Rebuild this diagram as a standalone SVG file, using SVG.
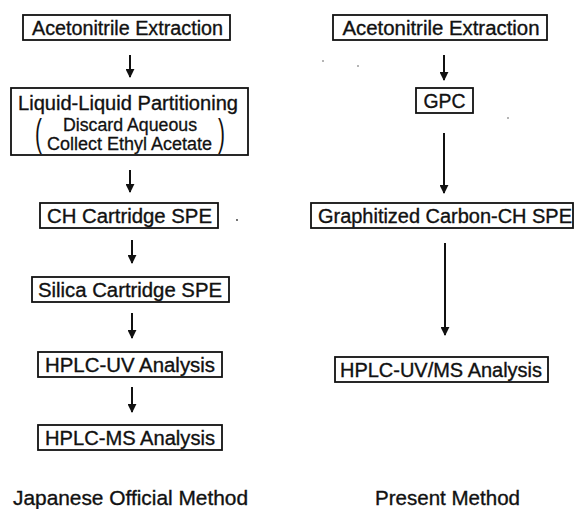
<svg xmlns="http://www.w3.org/2000/svg" width="574" height="509" viewBox="0 0 574 509">
<defs>
<style>
.box{fill:#fff;stroke:#111;stroke-width:1.8}
.t{font-family:"Liberation Sans",Arial,sans-serif;font-size:20px;fill:#111;stroke:#111;stroke-width:0.35;text-anchor:middle}
.s{font-family:"Liberation Sans",Arial,sans-serif;font-size:18px;fill:#111;stroke:#111;stroke-width:0.3;text-anchor:middle}
.p{font-family:"Liberation Sans",Arial,sans-serif;font-size:38px;fill:#111}
.lbl{font-family:"Liberation Sans",Arial,sans-serif;font-size:20.5px;fill:#111;stroke:#111;stroke-width:0.35;text-anchor:middle}
.arr{stroke:#111;stroke-width:2;fill:none;marker-end:url(#ah)}
</style>
<marker id="ah" viewBox="0 0 10 10" refX="9" refY="5" markerWidth="4.5" markerHeight="4.5" orient="auto" markerUnits="strokeWidth">
<path d="M0,0 L10,5 L0,10 Z" fill="#111"/>
</marker>
</defs>
<rect width="574" height="509" fill="#fff"/>

<g id="connectors">
<line class="arr" x1="130" y1="55" x2="130" y2="77"/>
<line class="arr" x1="130" y1="170" x2="130" y2="192"/>
<line class="arr" x1="132" y1="240" x2="132" y2="263"/>
<line class="arr" x1="132" y1="313" x2="132" y2="338"/>
<line class="arr" x1="132" y1="387" x2="132" y2="412"/>
<line class="arr" x1="444" y1="55" x2="444" y2="80"/>
<line class="arr" x1="444" y1="133" x2="444" y2="193"/>
<line class="arr" x1="445" y1="243" x2="445" y2="335"/>
</g>

<g id="l1">
<rect class="box" x="23" y="15" width="207" height="25"/>
<text class="t" x="127.5" y="35" textLength="191" lengthAdjust="spacingAndGlyphs">Acetonitrile Extraction</text>
</g>
<g id="l2">
<rect class="box" x="11" y="88" width="237" height="67"/>
<text class="t" x="128" y="110" textLength="220" lengthAdjust="spacingAndGlyphs">Liquid-Liquid Partitioning</text>
<text class="s" x="130" y="131" textLength="134" lengthAdjust="spacingAndGlyphs">Discard Aqueous</text>
<text class="s" x="129.5" y="150" textLength="165" lengthAdjust="spacingAndGlyphs">Collect Ethyl Acetate</text>
<text class="p" transform="translate(35,146) scale(0.55,1)">(</text>
<text class="p" transform="translate(218,146) scale(0.55,1)">)</text>
</g>
<g id="l3">
<rect class="box" x="40" y="203" width="178" height="25"/>
<text class="t" x="129.5" y="223" textLength="165" lengthAdjust="spacingAndGlyphs">CH Cartridge SPE</text>
</g>
<g id="l4">
<rect class="box" x="32" y="277" width="197" height="25"/>
<text class="t" x="130" y="297" textLength="184" lengthAdjust="spacingAndGlyphs">Silica Cartridge SPE</text>
</g>
<g id="l5">
<rect class="box" x="38" y="352" width="184" height="25"/>
<text class="t" x="130" y="372" textLength="170" lengthAdjust="spacingAndGlyphs">HPLC-UV Analysis</text>
</g>
<g id="l6">
<rect class="box" x="38" y="425" width="184" height="25"/>
<text class="t" x="130" y="445" textLength="170" lengthAdjust="spacingAndGlyphs">HPLC-MS Analysis</text>
</g>

<g id="r1">
<rect class="box" x="333" y="15" width="214" height="25"/>
<text class="t" x="441" y="35" textLength="197" lengthAdjust="spacingAndGlyphs">Acetonitrile Extraction</text>
</g>
<g id="r2">
<rect class="box" x="416" y="88" width="57" height="25"/>
<text class="t" x="444.5" y="108" textLength="42" lengthAdjust="spacingAndGlyphs">GPC</text>
</g>
<g id="r3">
<rect class="box" x="311" y="203" width="262" height="25"/>
<text class="t" x="445" y="223" textLength="254" lengthAdjust="spacingAndGlyphs">Graphitized Carbon-CH SPE</text>
</g>
<g id="r4">
<rect class="box" x="335" y="357" width="213" height="25"/>
<text class="t" x="441" y="377" textLength="202" lengthAdjust="spacingAndGlyphs">HPLC-UV/MS Analysis</text>
</g>

<text class="lbl" x="130.5" y="505" textLength="235" lengthAdjust="spacingAndGlyphs">Japanese Official Method</text>
<text class="lbl" x="447.5" y="505" textLength="145" lengthAdjust="spacingAndGlyphs">Present Method</text>

<g fill="#333">
<circle cx="237" cy="220" r="0.9"/>
<circle cx="323" cy="61" r="0.7"/>
<circle cx="358" cy="66" r="0.7"/>
<circle cx="508" cy="118" r="0.7"/>
</g>
</svg>
